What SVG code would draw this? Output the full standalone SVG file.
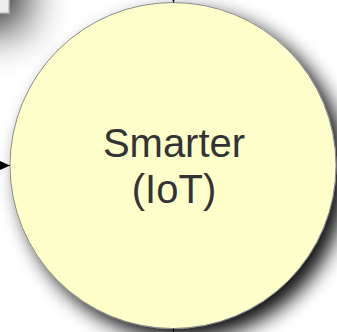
<svg xmlns="http://www.w3.org/2000/svg" width="337" height="332" viewBox="0 0 337 332">
<defs>
<filter id="sh" x="-50%" y="-50%" width="200%" height="200%">
<feGaussianBlur in="SourceAlpha" stdDeviation="10"/>
<feOffset dx="10" dy="10" result="b"/>
<feComponentTransfer><feFuncA type="linear" slope="0.95"/></feComponentTransfer>
<feMerge><feMergeNode/><feMergeNode in="SourceGraphic"/></feMerge>
</filter>
<filter id="shb" x="-50%" y="-50%" width="200%" height="200%">
<feGaussianBlur in="SourceAlpha" stdDeviation="22"/>
<feOffset dx="16" dy="16" result="b"/>
<feComponentTransfer><feFuncA type="linear" slope="0.85"/></feComponentTransfer>
<feMerge><feMergeNode/><feMergeNode in="SourceGraphic"/></feMerge>
</filter>
<marker id="ah" markerWidth="10" markerHeight="9" refX="10" refY="4.5" orient="auto" markerUnits="userSpaceOnUse">
<path d="M0,0 L10,4.5 L0,9 Z" fill="#000"/>
</marker>
<style>
.node{fill:#ffffcc;stroke:#888888;stroke-width:1}
.box{fill:#ececec;stroke:#aaaaaa;stroke-width:1}
.lbl{font-family:"Liberation Sans",Arial,sans-serif;font-size:40px;fill:#333333;text-anchor:middle}
.edge{stroke:#000;stroke-width:1;fill:none}
</style>
</defs>
<rect width="337" height="332" fill="#ffffff"/>
<g id="box">
<rect class="box" x="-200" y="-200" width="209" height="213" filter="url(#shb)"/>
</g>
<g id="smarter">
<circle class="node" cx="173" cy="165.5" r="163" filter="url(#sh)"/>
<text class="lbl" x="174" y="157">Smarter</text>
<text class="lbl" x="174" y="203">(IoT)</text>
</g>
<g id="connectors">
<line class="edge" x1="-20" y1="165.5" x2="10" y2="165.5" marker-end="url(#ah)"/>
<line class="edge" x1="173.5" y1="-10" x2="173.5" y2="2.5" marker-end="url(#ah)"/>
<line class="edge" x1="173.5" y1="328.5" x2="173.5" y2="340"/>
</g>
</svg>
